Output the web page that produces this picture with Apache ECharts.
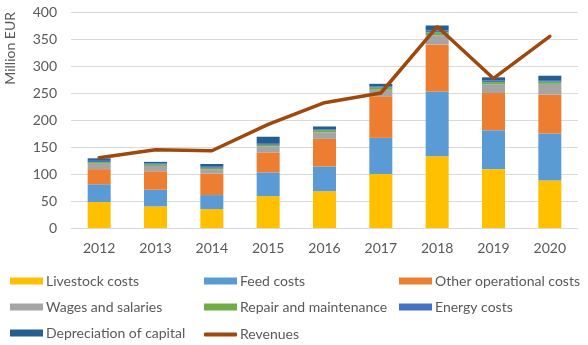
<!DOCTYPE html>
<html>
<head>
<meta charset="utf-8">
<script src="https://cdn.jsdelivr.net/npm/echarts@6/dist/echarts.min.js"></script>
<style>
  html, body { margin: 0; padding: 0; background: #fff; }
  #chart { width: 588px; height: 345px; }
</style>
</head>
<body>
<div id="chart"></div>
<script>
// Years on the category axis
const years = ['2012', '2013', '2014', '2015', '2016', '2017', '2018', '2019', '2020'];

// Cost components, million EUR
const livestockCosts   = [48, 40, 35, 59, 68, 100, 133, 109, 88];
const feedCosts        = [33, 31, 26, 44, 46, 67, 120, 72, 87];
const otherOperational = [28, 34, 40, 37, 51, 77, 87, 69, 72];
const wagesSalaries    = [10, 10, 8, 11, 12, 12, 17, 16, 20];
const repairMaint      = [3, 2.5, 2.5, 3, 4, 4, 5, 4, 4];
const energyCosts      = [4, 2, 2, 2, 2, 2, 4, 3, 3];
const depreciation     = [3, 3, 5, 13, 5, 5, 9, 6, 8];

// Revenues, million EUR
const revenues = [130, 145, 143, 192, 232, 250, 373, 277, 355];

// Value axis ticks
const yTicks = [0, 50, 100, 150, 200, 250, 300, 350, 400];

const font = 'Lato, "Open Sans", sans-serif';
const textColor = '#595959';

const stacks = [
  { name: 'Livestock costs', data: livestockCosts, color: '#FFC000' },
  { name: 'Feed costs', data: feedCosts, color: '#5B9BD5' },
  { name: 'Other operational costs', data: otherOperational, color: '#ED7D31' },
  { name: 'Wages and salaries', data: wagesSalaries, color: '#A5A5A5' },
  { name: 'Repair and maintenance', data: repairMaint, color: '#70AD47' },
  { name: 'Energy costs', data: energyCosts, color: '#4472C4' },
  { name: 'Depreciation of capital', data: depreciation, color: '#255E91' }
];

const series = stacks.map(s => ({
  name: s.name,
  type: 'bar',
  stack: 'costs',
  data: s.data,
  barWidth: 23,
  itemStyle: { color: s.color },
  emphasis: { disabled: true }
}));
series.push({
  name: 'Revenues',
  type: 'line',
  data: revenues,
  symbol: 'none',
  lineStyle: { color: '#9E480E', width: 3.5, cap: 'round' },
  itemStyle: { color: '#9E480E' },
  z: 5
});

// Legend laid out as a 3-column grid
const colX = [5, 199, 394];
const rowY = [269, 295, 321];
const legendNames = stacks.map(s => s.name).concat(['Revenues']);
const legends = legendNames.map((n, i) => {
  const isLine = n === 'Revenues';
  return {
    data: [n],
    left: colX[i % 3],
    top: rowY[Math.floor(i / 3)] + (isLine ? 1.5 : 0),
    itemWidth: 33,
    itemHeight: isLine ? 4 : 7,
    itemGap: 4,
    icon: isLine ? 'roundRect' : 'rect',
    selectedMode: false,
    textStyle: { fontFamily: font, fontSize: 14, color: textColor, padding: [0, 0, 0, -2] }
  };
});

const chart = echarts.init(document.getElementById('chart'), null, { renderer: 'canvas' });
chart.setOption({
  animation: false,
  grid: { left: 71, right: 10, top: 12, bottom: 117, containLabel: false },
  legend: legends,
  xAxis: {
    type: 'category',
    data: years,
    axisTick: { show: false },
    axisLine: { lineStyle: { color: '#D9D9D9', width: 1 } },
    axisLabel: { fontFamily: font, fontSize: 14, color: textColor, margin: 13 }
  },
  yAxis: {
    type: 'value',
    min: yTicks[0],
    max: yTicks[yTicks.length - 1],
    interval: 50,
    name: 'Million EUR',
    nameLocation: 'end',
    nameRotate: 90,
    nameGap: 0,
    nameTextStyle: { fontFamily: font, fontSize: 14, color: textColor, align: 'right', verticalAlign: 'bottom', padding: [0, 0, 54, 2] },
    axisLine: { show: false },
    axisTick: { show: false },
    axisLabel: { fontFamily: font, fontSize: 14, color: textColor, margin: 14 },
    splitLine: { lineStyle: { color: '#D9D9D9', width: 1 } }
  },
  series: series
});
</script>
</body>
</html>
